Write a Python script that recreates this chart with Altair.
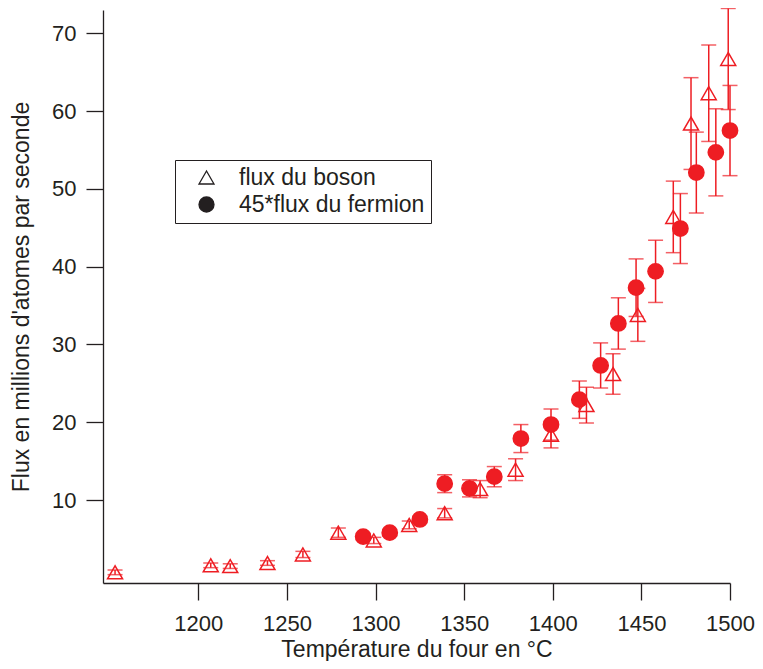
import altair as alt
import pandas as pd

# Boson flux (open triangles)
boson_T = [1153, 1207, 1218, 1239, 1259, 1279, 1299, 1319, 1339, 1359,
           1379, 1399, 1419, 1434, 1448, 1468, 1478, 1488, 1499]
boson_val = [0.7, 1.6, 1.5, 1.9, 3.0, 5.8, 4.8, 6.8, 8.3, 11.4,
             13.9, 18.4, 22.2, 26.2, 33.8, 46.4, 58.4, 62.3, 66.7]
boson_err = [0.3, 0.3, 0.3, 0.3, 0.4, 0.6, 0.4, 0.5, 0.6, 1.1,
             1.4, 1.7, 2.3, 2.6, 3.4, 4.6, 5.9, 6.2, 6.5]

# 45 * fermion flux (filled circles)
fermion_T = [1293, 1308, 1325, 1339, 1353, 1367, 1382, 1399, 1415, 1427,
             1437, 1447, 1458, 1472, 1481, 1492, 1500]
fermion_val = [5.3, 5.8, 7.5, 12.1, 11.5, 13.0, 17.9, 19.7, 22.9, 27.3,
               32.7, 37.3, 39.4, 44.9, 52.1, 54.7, 57.5]
fermion_err = [0.4, 0.4, 0.4, 1.15, 1.1, 1.3, 1.8, 2.0, 2.4, 2.9,
               3.3, 3.7, 4.0, 4.5, 5.2, 5.6, 5.8]

series_names = ["flux du boson", "45*flux du fermion"]
x_ticks = [1200, 1250, 1300, 1350, 1400, 1450, 1500]
y_ticks = [10, 20, 30, 40, 50, 60, 70]

rows = []
for T, v, e in zip(boson_T, boson_val, boson_err):
    rows.append({"series": series_names[0], "T": T, "val": v, "lo": v - e, "hi": v + e})
for T, v, e in zip(fermion_T, fermion_val, fermion_err):
    rows.append({"series": series_names[1], "T": T, "val": v, "lo": v - e, "hi": v + e})
df = pd.DataFrame(rows)

RED = "#EE1D23"
INK = "#231F20"
FONT = "Liberation Sans"

xscale = alt.Scale(domain=[1146.2, 1500], nice=False, zero=False)
yscale = alt.Scale(domain=[-0.67, 73.0], nice=False, zero=False)

xaxis = alt.Axis(values=x_ticks, format="d", title="Température du four en °C", grid=False,
                 tickSize=17, labelPadding=13, titlePadding=4,
                 labelFontSize=22, titleFontSize=23, titleFontWeight="normal",
                 labelFont=FONT, titleFont=FONT, labelColor=INK, titleColor=INK,
                 domainColor=INK, tickColor=INK, domainWidth=1.3, tickWidth=1.3,
                 labelFlush=False, labelOverlap=False)
yaxis = alt.Axis(values=y_ticks, format="d", title="Flux en millions d'atomes par seconde", grid=False,
                 tickSize=17, labelPadding=10, titlePadding=18,
                 labelFontSize=22, titleFontSize=23, titleFontWeight="normal",
                 labelFont=FONT, titleFont=FONT, labelColor=INK, titleColor=INK,
                 domainColor=INK, tickColor=INK, domainWidth=1.3, tickWidth=1.3,
                 labelFlush=False, labelOverlap=False)

base = alt.Chart(df)

bars = base.mark_rule(color=RED, strokeWidth=1.5).encode(
    x=alt.X("T:Q", scale=xscale, axis=xaxis),
    y=alt.Y("lo:Q", scale=yscale, axis=yaxis),
    y2="hi:Q",
)
cap_lo = base.mark_tick(color=RED, orient="horizontal", size=15, thickness=1.5).encode(
    x=alt.X("T:Q", scale=xscale), y=alt.Y("lo:Q", scale=yscale))
cap_hi = base.mark_tick(color=RED, orient="horizontal", size=15, thickness=1.5).encode(
    x=alt.X("T:Q", scale=xscale), y=alt.Y("hi:Q", scale=yscale))

points = base.mark_point(strokeWidth=1.5, opacity=1).encode(
    x=alt.X("T:Q", scale=xscale),
    y=alt.Y("val:Q", scale=yscale),
    shape=alt.Shape("series:N", scale=alt.Scale(domain=series_names, range=["triangle-up", "circle"]),
                    legend=None),
    fill=alt.Fill("series:N", scale=alt.Scale(domain=series_names, range=["transparent", RED]),
                  legend=None),
    size=alt.Size("series:N", scale=alt.Scale(domain=series_names, range=[225, 234]), legend=None),
    color=alt.value(RED),
    order=alt.Order("order_key:Q"),
).transform_calculate(order_key="datum.series === 'flux du boson' ? 0 : 1")

legend_kw = dict(
    title=None, orient="none", legendX=72, legendY=150,
    padding=6, symbolOffset=14, labelOffset=21, rowPadding=3,
    labelFontSize=23, labelFont=FONT, labelColor=INK, labelLimit=400,
    symbolSize=225, symbolStrokeWidth=1.3,
    strokeColor=INK, fillColor="white",
)

legend_layer = base.transform_filter("false").mark_point(strokeWidth=1.3, opacity=1).encode(
    x=alt.X("T:Q", scale=xscale),
    y=alt.Y("val:Q", scale=yscale),
    shape=alt.Shape("series:N", scale=alt.Scale(domain=series_names, range=["triangle-up", "circle"]),
                    legend=alt.Legend(**legend_kw)),
    fill=alt.Fill("series:N", scale=alt.Scale(domain=series_names, range=["transparent", INK]),
                  legend=alt.Legend(**legend_kw)),
    color=alt.value(INK),
)

chart = alt.layer(bars, cap_lo, cap_hi, points, legend_layer).resolve_scale(
    shape="independent", fill="independent", size="independent"
).properties(
    width=627, height=573,
    padding={"left": 95, "top": 2, "right": 25, "bottom": 78},
    autosize=alt.AutoSizeParams(type="none"),
).configure_view(stroke=None)

chart.save("out.html", embed_options={"renderer": "svg", "actions": False})
